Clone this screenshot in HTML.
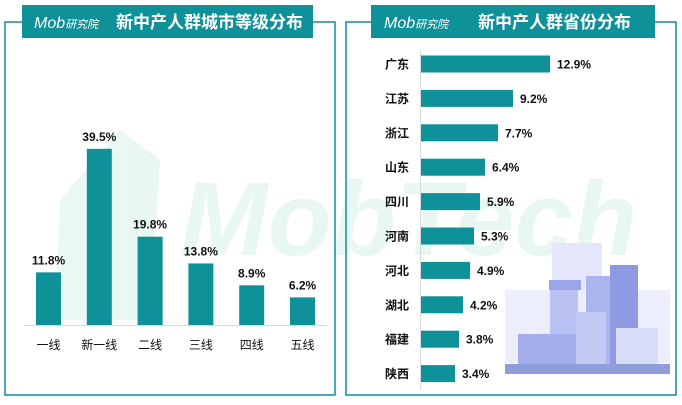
<!DOCTYPE html>
<html><head><meta charset="utf-8"><style>
body{margin:0;width:682px;height:400px;background:#fff;overflow:hidden;font-family:"Liberation Sans","Noto Sans CJK SC",sans-serif}
svg text{font-family:"Liberation Sans","Noto Sans CJK SC",sans-serif}
</style></head><body>
<svg width="682" height="400">
<g opacity="0.1">
<polygon points="60,200 120,130 160,160 150,320 55,320" fill="#2eb88a"/>
<text x="180" y="255" font-size="105" font-style="italic" font-weight="bold" fill="#2eb88a">MobTech</text>
</g>
<g>
<polyline points="22,22 5,22 5,395 335,395 335,22 313,22" fill="none" stroke="#0e9198" stroke-width="1.5"/>
<rect x="22" y="5" width="291" height="33" fill="#0e9198"/>
<text x="34" y="28" font-size="16" font-style="italic" fill="#fff">Mob<tspan font-size="11">研究院</tspan></text>
<text x="116" y="28" font-size="17" font-weight="bold" fill="#fff">新中产人群城市等级分布</text>
<line x1="24" y1="325.5" x2="327" y2="325.5" stroke="#d9d9d9"/>
<g id="lbars"></g>
</g>
<g>
<polyline points="371,22 346,22 346,395 676,395 676,22 655,22" fill="none" stroke="#0e9198" stroke-width="1.5"/>
<rect x="371" y="5" width="284" height="33" fill="#0e9198"/>
<text x="384" y="28" font-size="16" font-style="italic" fill="#fff">Mob<tspan font-size="11">研究院</tspan></text>
<text x="478" y="28" font-size="17" font-weight="bold" fill="#fff">新中产人群省份分布</text>
<g>
<rect x="552" y="243" width="50" height="120" fill="#e4e6fb"/>
<rect x="505" y="290" width="165" height="73" fill="#eceefc"/>
<rect x="550" y="280" width="28" height="85" fill="#b9c2f2"/>
<rect x="549" y="280" width="32" height="10" fill="#9aa6e8"/>
<rect x="586" y="276" width="32" height="90" fill="#aab4ee"/>
<rect x="610" y="265" width="28" height="100" fill="#8e9be3"/>
<rect x="576" y="312" width="30" height="52" fill="#c3cbf5"/>
<rect x="616" y="328" width="42" height="36" fill="#d7dcf8"/>
<rect x="518" y="334" width="58" height="30" fill="#a3aeea"/>
<rect x="505" y="364" width="165" height="10" fill="#8f9ed8"/>
</g>
<line x1="420.5" y1="50" x2="420.5" y2="390" stroke="#d9d9d9"/>
<g id="rbars"></g>
</g>
</svg>
<script>
const cityCats=["一线","新一线","二线","三线","四线","五线"];
const cityVals=[11.8,39.5,19.8,13.8,8.9,6.2];
const provCats=["广东","江苏","浙江","山东","四川","河南","河北","湖北","福建","陕西"];
const provVals=[12.9,9.2,7.7,6.4,5.9,5.3,4.9,4.2,3.8,3.4];
const NS="http://www.w3.org/2000/svg";
function mk(t,a,p){const e=document.createElementNS(NS,t);for(const k in a)e.setAttribute(k,a[k]);p.appendChild(e);return e;}
const yL=v=>325-v*4.46, xL=i=>36+i*50.8;
const lg=document.getElementById("lbars");
cityCats.forEach((c,i)=>{
 const r=mk("rect",{x:xL(i),y:yL(cityVals[i]),width:25,height:325-yL(cityVals[i]),fill:"#0e9198"},lg);
 
 
 const v=mk("text",{x:xL(i)+12.5,y:yL(cityVals[i])-8,"text-anchor":"middle","font-size":"12","font-weight":"bold",fill:"#111"},lg);v.textContent=cityVals[i]+"%";
 
 
 const l=mk("text",{x:xL(i)+12.5,y:349,"text-anchor":"middle","font-size":"12",fill:"#111"},lg);l.textContent=c;
 
 
});
const xR=v=>421+v*10, yR=i=>64+i*34.4;
const rg=document.getElementById("rbars");
provCats.forEach((c,i)=>{
 const r=mk("rect",{x:421,y:yR(i)-8.5,width:xR(provVals[i])-421,height:17,fill:"#0e9198"},rg);
 
 
 const v=mk("text",{x:xR(provVals[i])+7,y:yR(i)+4.5,"font-size":"12","font-weight":"bold",fill:"#111"},rg);v.textContent=provVals[i]+"%";
 
 
 const l=mk("text",{x:397,y:yR(i)+4.5,"text-anchor":"middle","font-size":"12","font-weight":"bold",fill:"#111"},rg);l.textContent=c;
 
 
});
</script>
</body></html>
